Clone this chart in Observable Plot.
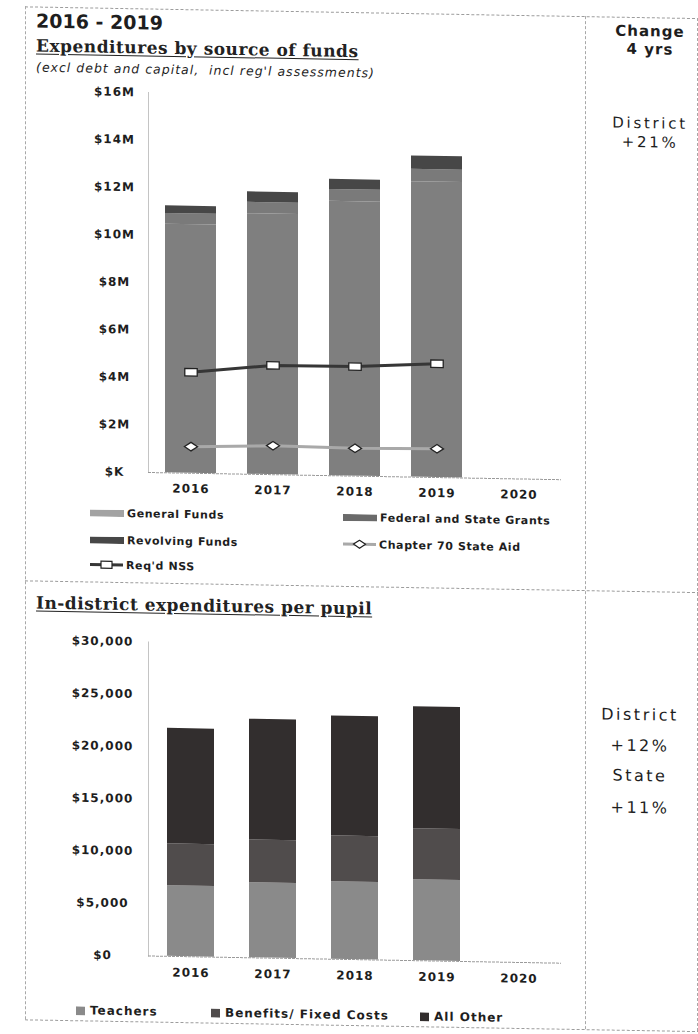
<!DOCTYPE html>
<html>
<head>
<meta charset="utf-8">
<script src="https://cdn.jsdelivr.net/npm/d3@7"></script>
<script src="https://cdn.jsdelivr.net/npm/@observablehq/plot@0.6"></script>
<style>
  html, body { margin: 0; padding: 0; background: #fff; overflow: hidden; }
  #page {
    position: relative; width: 698px; height: 1034px; overflow: hidden;
    transform: skewY(1deg); transform-origin: 349px 517px;
    font-family: "DejaVu Sans", sans-serif; color: #1e1e1e;
  }
  .abs { position: absolute; white-space: nowrap; line-height: 1; }
  .hline { position: absolute; height: 0; border-top: 1px dashed #9c9c9c; }
  .vline { position: absolute; width: 0; border-left: 1px dashed #a8a8a8; }
  .year-range { font-weight: bold; font-size: 19px; }
  .chart-title { font-family: "DejaVu Serif", serif; font-weight: bold; font-size: 17px; letter-spacing: 0.5px; text-decoration: underline; text-underline-offset: 2px; color: #222; }
  .subtitle { font-style: italic; font-size: 12.5px; letter-spacing: 1px; }
  .change-head { font-weight: bold; font-size: 15px; letter-spacing: 1px; transform: translateX(-50%); }
  .change-val { font-size: 16px; letter-spacing: 2.5px; transform: translateX(-50%); }
  .change-val.tight { font-size: 15px; letter-spacing: 2.7px; }
  .legend-item { position: absolute; display: flex; align-items: center; height: 14px; font-weight: bold; font-size: 11px; letter-spacing: 0.6px; white-space: nowrap; }
  .legend-item svg { margin-right: 3px; }
  .legend-item2 { position: absolute; display: flex; align-items: center; height: 14px; font-weight: bold; font-size: 12px; letter-spacing: 1px; white-space: nowrap; }
  .legend-item2 svg { margin-right: 5px; }
  .chart { position: absolute; left: 0; }
  .chart svg text { letter-spacing: 1px; }
</style>
</head>
<body>
<div id="page">
  <div class="hline" style="left:25px;top:12px;width:680px"></div>
  <div class="vline" style="left:25px;top:12px;height:1013px"></div>
  <div class="vline" style="left:585px;top:12px;height:1013px"></div>
  <div class="vline" style="left:697px;top:12px;height:1013px"></div>
  <div class="hline" style="left:25px;top:586px;width:680px"></div>
  <div class="hline" style="left:25px;top:1025px;width:680px"></div>

  <div class="abs year-range" style="left:36px;top:17px">2016 - 2019</div>
  <div class="abs chart-title" style="left:36px;top:43px">Expenditures by source of funds</div>
  <div class="abs subtitle" style="left:36px;top:67px">(excl debt and capital,&nbsp; incl reg'l assessments)</div>

  <div class="abs change-head" style="left:650px;top:19px">Change</div>
  <div class="abs change-head" style="left:650px;top:37px">4 yrs</div>
  <div class="abs change-val tight" style="left:650px;top:111px">District</div>
  <div class="abs change-val tight" style="left:650px;top:129.5px">+21%</div>

  <div id="chart1" class="chart" style="top:80px"></div>
  <div id="legend1"></div>

  <div class="abs chart-title" style="left:36px;top:600.2px">In-district expenditures per pupil</div>
  <div class="abs change-val" style="left:640px;top:701.5px">District</div>
  <div class="abs change-val" style="left:640px;top:733px">+12%</div>
  <div class="abs change-val" style="left:640px;top:763.1px">State</div>
  <div class="abs change-val" style="left:640px;top:794.7px">+11%</div>

  <div id="chart2" class="chart" style="top:625px"></div>
  <div id="legend2"></div>
</div>

<script>
// ---- Expenditures by source of funds ($ millions) ----
const axisYears = ["2016", "2017", "2018", "2019", "2020"];
const fundYears = ["2016", "2017", "2018", "2019"];
const generalFunds = [10.47, 10.97, 11.55, 12.44];
const federalStateGrants = [0.45, 0.48, 0.50, 0.52];
const revolvingFunds = [0.32, 0.44, 0.43, 0.56];
const chapter70Aid = [1.12, 1.22, 1.17, 1.21];
const reqdNSS = [4.25, 4.60, 4.61, 4.79];
const fundTicks = [0, 2, 4, 6, 8, 10, 12, 14, 16];

const fundSources = ["General Funds", "Federal and State Grants", "Revolving Funds"];
const fundColors = ["#7f7f7f", "#7a7a7a", "#474747"];
const aidColor = "#a9a9a9";
const nssColor = "#363636";

// ---- In-district expenditures per pupil ($) ----
const pupilYears = ["2016", "2017", "2018", "2019"];
const teachers = [6750, 7170, 7400, 7730];
const benefitsFixed = [4000, 4100, 4390, 4870];
const allOther = [11040, 11530, 11460, 11670];
const pupilTicks = [0, 5000, 10000, 15000, 20000, 25000, 30000];

const pupilCategories = ["Teachers", "Benefits/ Fixed Costs", "All Other"];
const pupilColors = ["#8a8a8a", "#504c4c", "#322e2e"];

// Marker shapes: a flat white box for NSS and a flat diamond for Chapter 70.
const boxMarker = {
  draw(ctx, size) {
    const r = Math.sqrt(size / Math.PI), w = r * 1.35, h = r * 0.8;
    ctx.moveTo(-w, -h); ctx.lineTo(w, -h); ctx.lineTo(w, h); ctx.lineTo(-w, h); ctx.closePath();
  }
};
const diamondMarker = {
  draw(ctx, size) {
    const r = Math.sqrt(size / Math.PI), w = r * 1.45, h = r * 0.95;
    ctx.moveTo(-w, 0); ctx.lineTo(0, -h); ctx.lineTo(w, 0); ctx.lineTo(0, h); ctx.closePath();
  }
};

const fundRows = fundYears.flatMap((year, i) => [
  {year, source: fundSources[0], value: generalFunds[i]},
  {year, source: fundSources[1], value: federalStateGrants[i]},
  {year, source: fundSources[2], value: revolvingFunds[i]}
]);
const aidRows = fundYears.map((year, i) => ({year, value: chapter70Aid[i]}));
const nssRows = fundYears.map((year, i) => ({year, value: reqdNSS[i]}));

const chart1 = Plot.plot({
  width: 580, height: 440,
  marginLeft: 148, marginRight: 19, marginTop: 15.5, marginBottom: 44.5,
  style: {fontFamily: "DejaVu Sans, sans-serif", color: "#1e1e1e", background: "transparent"},
  x: {domain: axisYears, paddingInner: 0.383, paddingOuter: 0.1915, label: null},
  y: {domain: [0, 16], label: null},
  color: {domain: fundSources, range: fundColors},
  marks: [
    Plot.frame({anchor: "left", stroke: "#c4c4c4"}),
    Plot.barY(fundRows, {x: "year", y: "value", fill: "source"}),
    Plot.line(aidRows, {x: "year", y: "value", stroke: aidColor, strokeWidth: 3}),
    Plot.line(nssRows, {x: "year", y: "value", stroke: nssColor, strokeWidth: 3}),
    Plot.dot(aidRows, {x: "year", y: "value", symbol: diamondMarker, r: 4.5, fill: "white", stroke: "#222", strokeWidth: 1.3}),
    Plot.dot(nssRows, {x: "year", y: "value", symbol: boxMarker, r: 4.6, fill: "white", stroke: "#222", strokeWidth: 1.3}),
    Plot.ruleY([0], {stroke: "#9a9a9a", strokeDasharray: "3,1"}),
    Plot.axisY({ticks: fundTicks, tickSize: 0, tickPadding: 34, textAnchor: "middle",
      tickFormat: d => d === 0 ? "$K" : `$${d}M`, fontSize: 12, fontWeight: "bold", label: null}),
    Plot.axisX({tickSize: 0, tickPadding: 11, fontSize: 12, fontWeight: "bold", label: null})
  ]
});
document.getElementById("chart1").append(chart1);

const pupilRows = pupilYears.flatMap((year, i) => [
  {year, category: pupilCategories[0], value: teachers[i]},
  {year, category: pupilCategories[1], value: benefitsFixed[i]},
  {year, category: pupilCategories[2], value: allOther[i]}
]);

const chart2 = Plot.plot({
  width: 580, height: 370,
  marginLeft: 148, marginRight: 19, marginTop: 20.1, marginBottom: 36,
  style: {fontFamily: "DejaVu Sans, sans-serif", color: "#1e1e1e", background: "transparent"},
  x: {domain: axisYears, paddingInner: 0.431, paddingOuter: 0.2155, label: null},
  y: {domain: [0, 30000], label: null},
  color: {domain: pupilCategories, range: pupilColors},
  marks: [
    Plot.frame({anchor: "left", stroke: "#c4c4c4"}),
    Plot.barY(pupilRows, {x: "year", y: "value", fill: "category"}),
    Plot.ruleY([0], {stroke: "#9a9a9a", strokeDasharray: "3,1"}),
    Plot.axisY({ticks: pupilTicks, tickSize: 0, tickPadding: 46, textAnchor: "middle",
      tickFormat: d3.format("$,"), fontSize: 12, fontWeight: "bold", label: null}),
    Plot.axisX({tickSize: 0, tickPadding: 11.5, fontSize: 12, fontWeight: "bold", label: null})
  ]
});
document.getElementById("chart2").append(chart2);

// ---- Legends ----
function swatchSvg(w, h, color) {
  return `<svg width="${w}" height="${h}"><rect width="${w}" height="${h}" fill="${color}"/></svg>`;
}
function lineKeySvg(color, shape) {
  const mark = shape === "box"
    ? `<rect x="11" y="1.5" width="11" height="7" fill="white" stroke="#222" stroke-width="1.2"/>`
    : `<path d="M10.5,5 L16.5,1 L22.5,5 L16.5,9 Z" fill="white" stroke="#222" stroke-width="1.2"/>`;
  return `<svg width="33" height="10"><line x1="0" y1="5" x2="33" y2="5" stroke="${color}" stroke-width="3"/>${mark}</svg>`;
}
const legend1Items = [
  {left: 90, top: 510, key: swatchSvg(34, 7, "#a3a3a3"), label: fundSources[0]},
  {left: 343, top: 510, key: swatchSvg(34, 7, "#6a6a6a"), label: fundSources[1]},
  {left: 90, top: 537, key: swatchSvg(34, 7, fundColors[2]), label: fundSources[2]},
  {left: 343, top: 537, key: lineKeySvg(aidColor, "diamond"), label: "Chapter 70 State Aid"},
  {left: 90, top: 562, key: lineKeySvg(nssColor, "box"), label: "Req'd NSS"}
];
document.getElementById("legend1").innerHTML = legend1Items.map(d =>
  `<div class="legend-item" style="left:${d.left}px;top:${d.top}px">${d.key}<span>${d.label}</span></div>`).join("");

const legend2Items = [
  {left: 76, label: pupilCategories[0], color: pupilColors[0]},
  {left: 211, label: pupilCategories[1], color: pupilColors[1]},
  {left: 420, label: pupilCategories[2], color: pupilColors[2]}
];
document.getElementById("legend2").innerHTML = legend2Items.map(d =>
  `<div class="legend-item2" style="left:${d.left}px;top:1008px">${swatchSvg(9, 9, d.color)}<span>${d.label}</span></div>`).join("");
</script>
</body>
</html>
